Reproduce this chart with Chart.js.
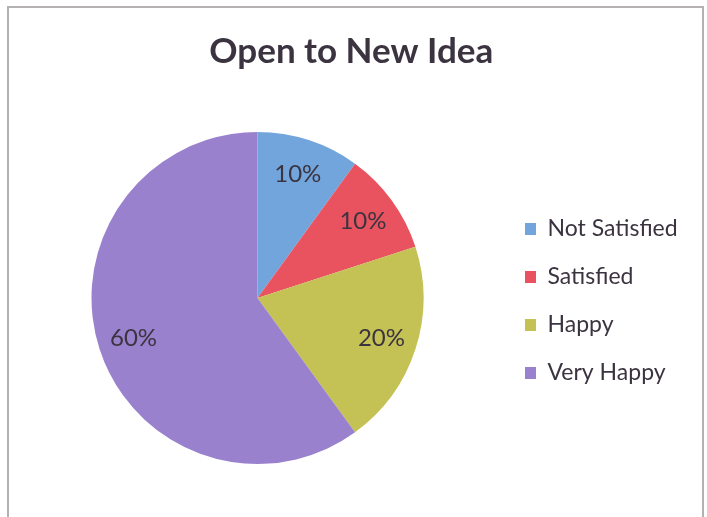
<!DOCTYPE html>
<html>
<head>
<meta charset="utf-8">
<script src="https://cdn.jsdelivr.net/npm/chart.js@4/dist/chart.umd.min.js"></script>
<style>
  html, body { margin: 0; padding: 0; background: #ffffff; }
  body { width: 707px; height: 517px; overflow: hidden; position: relative; }
  #frame {
    position: absolute; left: 7px; top: 6px; width: 697px; height: 540px;
    border: 2px solid #b5b1b3; border-bottom: none; box-sizing: border-box;
  }
  #wrap { position: absolute; left: 2px; top: 0; width: 707px; height: 517px; }
</style>
</head>
<body>
<div id="frame"></div>
<div id="wrap"><canvas id="c" width="707" height="517"></canvas></div>
<script>
// Survey answers and their shares (percent)
const categories = ['Not Satisfied', 'Satisfied', 'Happy', 'Very Happy'];
const shares = [10, 10, 20, 60];
const sliceColors = ['#72a5dc', '#e8535f', '#c4c155', '#9a81cd'];

const FONT = 'Lato, "Open Sans", sans-serif';
const TEXT_COLOR = '#3b3440';
const LEGEND_SIZE = 23;
const LEGEND_PAD = 25;
const BOX_W = 11;
const BOX_H = 12;
const PLOT_LEFT = 13;
const PLOT_RIGHT = 498;

// Legend sits to the right of the pie; size the right padding so the legend starts at PLOT_RIGHT
const probe = document.createElement('canvas').getContext('2d');
probe.font = LEGEND_SIZE + 'px ' + FONT;
const widest = Math.max(...categories.map(t => probe.measureText(t).width));
const legendWidth = LEGEND_PAD + BOX_W + LEGEND_SIZE / 2 + widest + 10;
const rightPad = Math.max(0, 707 - PLOT_RIGHT - legendWidth);

// Percent labels inside each slice
const sliceLabels = {
  id: 'sliceLabels',
  afterDatasetsDraw(chart) {
    const ctx = chart.ctx;
    const meta = chart.getDatasetMeta(0);
    ctx.save();
    ctx.font = '24px ' + FONT;
    ctx.fillStyle = TEXT_COLOR;
    ctx.textAlign = 'center';
    ctx.textBaseline = 'middle';
    meta.data.forEach((arc, i) => {
      const p = arc.getProps(['x', 'y', 'startAngle', 'endAngle', 'outerRadius'], true);
      const mid = (p.startAngle + p.endAngle) / 2;
      const r = p.outerRadius * 0.785;
      ctx.fillText(shares[i] + '%', p.x + Math.cos(mid) * r, p.y + Math.sin(mid) * r);
    });
    ctx.restore();
  }
};

new Chart(document.getElementById('c'), {
  type: 'pie',
  data: {
    labels: categories,
    datasets: [{
      data: shares,
      backgroundColor: sliceColors,
      borderWidth: 0,
      hoverOffset: 0,
      offset: 0
    }]
  },
  options: {
    responsive: false,
    animation: false,
    layout: { padding: { top: 20, bottom: 53, left: PLOT_LEFT, right: rightPad } },
    plugins: {
      title: {
        display: true,
        text: 'Open to New Idea',
        color: TEXT_COLOR,
        font: { family: FONT, size: 35, weight: 'bold' },
        padding: { top: 10.5, bottom: 59.5 }
      },
      legend: {
        position: 'right',
        fullSize: false,
        // empty heading: only nudges the legend entries down a little
        title: { display: true, text: '', font: { size: 5 }, padding: 0 },
        labels: {
          boxWidth: BOX_W,
          boxHeight: BOX_H,
          padding: LEGEND_PAD,
          color: TEXT_COLOR,
          font: { family: FONT, size: LEGEND_SIZE }
        }
      },
      tooltip: { enabled: false }
    }
  },
  plugins: [sliceLabels]
});
</script>
</body>
</html>
